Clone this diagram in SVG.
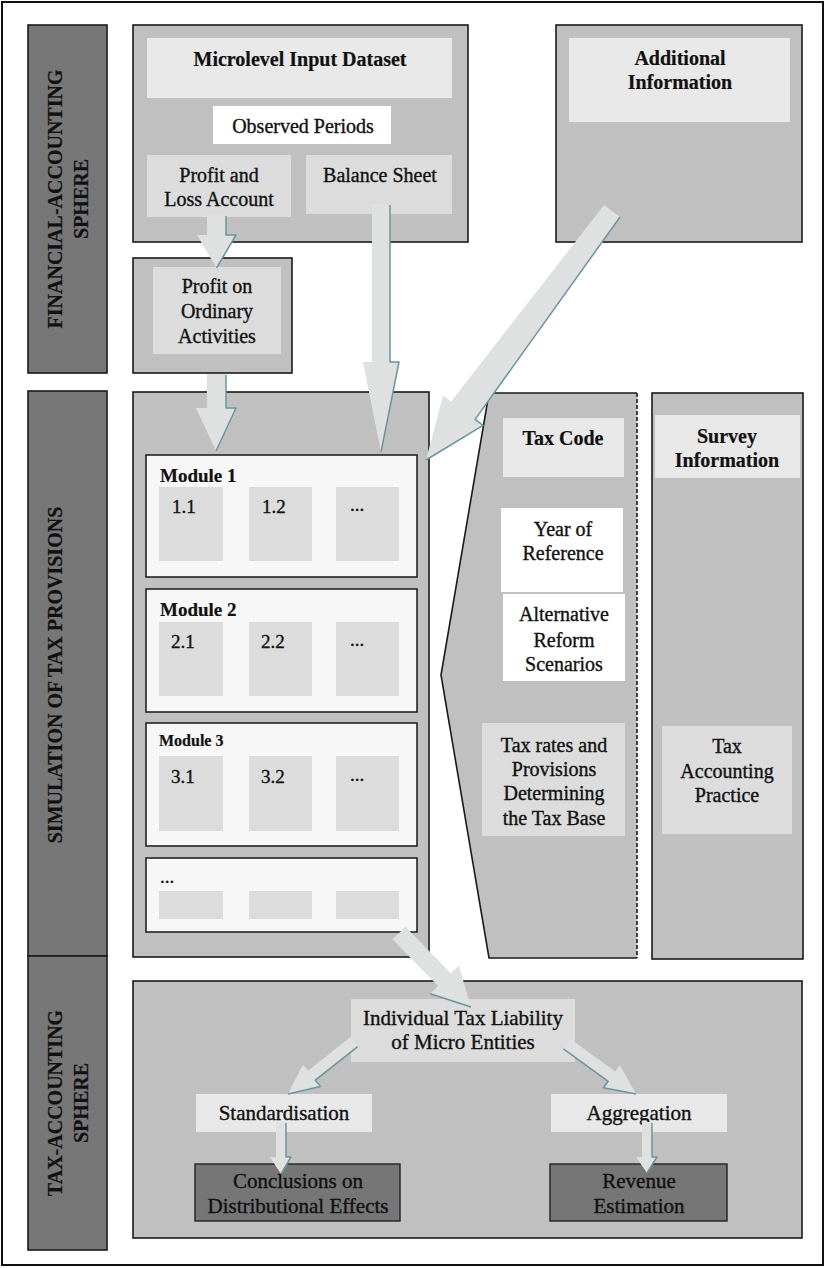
<svg xmlns="http://www.w3.org/2000/svg" width="826" height="1268" viewBox="0 0 826 1268">
<style>
.box{fill:#c0c0c0;stroke:#1a1a1a;stroke-width:1.6}
.side{fill:#777777;stroke:#1a1a1a;stroke-width:1.6}
.hdr{fill:#e8e8e8}
.sub{fill:#dcdcdc}
.wht{fill:#ffffff}
.mod{fill:#f7f7f7;stroke:#222;stroke-width:1.6}
.dark{fill:#767676;stroke:#222;stroke-width:1.4}
text{font-family:"Liberation Serif","Times New Roman",serif;font-size:20px;fill:#111;stroke:#111;stroke-width:0.35;text-anchor:middle}
.b{font-weight:bold;stroke-width:0.2}
.s21{font-size:21px}
.l{text-anchor:start}
.arr{fill:#dfe0e0}
.sh{fill:none;stroke:#6a95a0;stroke-width:1.5;stroke-linejoin:round}
</style>
<rect x="2" y="2" width="821" height="1263" fill="#fff" stroke="#111" stroke-width="2"/>

<g id="side-financial">
<rect class="side" x="28" y="25" width="79" height="348"/>
<text class="b" transform="translate(62,199) rotate(-90)">FINANCIAL-ACCOUNTING</text>
<text class="b" transform="translate(88,199) rotate(-90)">SPHERE</text>
</g>
<g id="side-simulation">
<rect class="side" x="28" y="391" width="79" height="565"/>
<text class="b" transform="translate(62,675) rotate(-90)">SIMULATION OF TAX PROVISIONS</text>
</g>
<g id="side-taxaccounting">
<rect class="side" x="28" y="956" width="79" height="294"/>
<text class="b" transform="translate(62,1103) rotate(-90)">TAX-ACCOUNTING</text>
<text class="b" transform="translate(88,1103) rotate(-90)">SPHERE</text>
</g>

<g id="microlevel">
<rect class="box" x="133" y="25" width="335" height="217"/>
<rect class="hdr" x="147" y="38" width="305" height="60"/>
<text class="b" x="300" y="66">Microlevel Input Dataset</text>
</g>
<g id="observed-periods">
<rect class="wht" x="213" y="106" width="178" height="38"/>
<text x="303" y="133">Observed Periods</text>
</g>
<g id="profit-loss">
<rect class="sub" x="147" y="155" width="144" height="62"/>
<text x="219" y="182">Profit and</text>
<text x="219" y="206">Loss Account</text>
</g>
<g id="balance-sheet">
<rect class="sub" x="306" y="155" width="146" height="59"/>
<text x="380" y="182">Balance Sheet</text>
</g>

<g id="additional-info">
<rect class="box" x="556" y="25" width="246" height="217"/>
<rect class="hdr" x="569" y="38" width="221" height="84"/>
<text class="b" x="680" y="65">Additional</text>
<text class="b" x="680" y="89">Information</text>
</g>

<g id="profit-ordinary">
<rect class="box" x="133" y="258" width="159" height="115"/>
<rect class="sub" x="153" y="267" width="128" height="87"/>
<text x="217" y="293">Profit on</text>
<text x="217" y="318">Ordinary</text>
<text x="217" y="343">Activities</text>
</g>

<g id="simulation">
<rect class="box" x="133" y="392" width="296" height="565"/>
</g>
<g id="module1">
<rect class="mod" x="146" y="455" width="271" height="122"/>
<text class="b l" x="160" y="482" style="font-size:19px">Module 1</text>
<rect class="sub" x="159" y="487" width="64" height="74"/>
<rect class="sub" x="249" y="487" width="63" height="74"/>
<rect class="sub" x="336" y="487" width="63" height="74"/>
<text class="l" x="172" y="513" style="font-size:19px">1.1</text>
<text class="l" x="262" y="513" style="font-size:19px">1.2</text>
<text class="l" x="350" y="511" style="font-size:19px">...</text>
</g>
<g id="module2">
<rect class="mod" x="146" y="589" width="271" height="123"/>
<text class="b l" x="160" y="616" style="font-size:19px">Module 2</text>
<rect class="sub" x="159" y="622" width="64" height="74"/>
<rect class="sub" x="249" y="622" width="63" height="74"/>
<rect class="sub" x="336" y="622" width="63" height="74"/>
<text class="l" x="171" y="648" style="font-size:19px">2.1</text>
<text class="l" x="261" y="648" style="font-size:19px">2.2</text>
<text class="l" x="350" y="646" style="font-size:19px">...</text>
</g>
<g id="module3">
<rect class="mod" x="146" y="723" width="271" height="123"/>
<text class="b l" x="159" y="746" style="font-size:16px">Module 3</text>
<rect class="sub" x="159" y="756" width="64" height="75"/>
<rect class="sub" x="249" y="756" width="63" height="75"/>
<rect class="sub" x="336" y="756" width="63" height="75"/>
<text class="l" x="171" y="783" style="font-size:19px">3.1</text>
<text class="l" x="261" y="783" style="font-size:19px">3.2</text>
<text class="l" x="350" y="781" style="font-size:19px">...</text>
</g>
<g id="module-more">
<rect class="mod" x="146" y="858" width="271" height="74"/>
<text class="l" x="160" y="883" style="font-size:19px">...</text>
<rect class="sub" x="159" y="891" width="64" height="28"/>
<rect class="sub" x="249" y="891" width="63" height="28"/>
<rect class="sub" x="336" y="891" width="63" height="28"/>
</g>

<g id="tax-code">
<polygon points="489,393 637,393 637,958 489,958 441,675" fill="#c0c0c0"/>
<polyline points="637,393 489,393 441,675 489,958 637,958" fill="none" stroke="#1a1a1a" stroke-width="1.6"/>
<line x1="637" y1="393" x2="637" y2="958" stroke="#1a1a1a" stroke-width="1.6" stroke-dasharray="4 2"/>
<rect class="hdr" x="503" y="418" width="121" height="59"/>
<text class="b" x="563" y="445">Tax Code</text>
</g>
<g id="year-of-reference">
<rect class="wht" x="501" y="508" width="122" height="84"/>
<text x="563" y="536">Year of</text>
<text x="563" y="560">Reference</text>
</g>
<g id="alternative-reform">
<rect class="wht" x="503" y="594" width="122" height="87"/>
<text x="564" y="621">Alternative</text>
<text x="564" y="647">Reform</text>
<text x="564" y="671">Scenarios</text>
</g>
<g id="tax-rates">
<rect class="sub" x="482" y="723" width="143" height="113"/>
<text x="554" y="752">Tax rates and</text>
<text x="554" y="776">Provisions</text>
<text x="554" y="800">Determining</text>
<text x="554" y="825">the Tax Base</text>
</g>

<g id="survey">
<rect class="box" x="652" y="393" width="151" height="566"/>
<rect class="hdr" x="655" y="415" width="145" height="63"/>
<text class="b" x="727" y="443">Survey</text>
<text class="b" x="727" y="467">Information</text>
</g>
<g id="tax-accounting-practice">
<rect class="sub" x="662" y="726" width="130" height="108"/>
<text x="727" y="753">Tax</text>
<text x="727" y="778">Accounting</text>
<text x="727" y="802">Practice</text>
</g>

<g id="tax-accounting">
<rect class="box" x="133" y="981" width="669" height="257"/>
</g>
<g id="individual-liability">
<rect class="sub" x="351" y="999" width="224" height="63"/>
<text class="s21" x="463" y="1025">Individual Tax Liability</text>
<text class="s21" x="463" y="1049">of Micro Entities</text>
</g>
<g id="standardisation">
<rect class="hdr" x="196" y="1094" width="176" height="38"/>
<text class="s21" x="284" y="1120">Standardisation</text>
</g>
<g id="aggregation">
<rect class="hdr" x="551" y="1094" width="176" height="38"/>
<text class="s21" x="639" y="1120">Aggregation</text>
</g>
<g id="conclusions">
<rect class="dark" x="195" y="1164" width="205" height="57"/>
<text class="s21" x="298" y="1188">Conclusions on</text>
<text class="s21" x="298" y="1213">Distributional Effects</text>
</g>
<g id="revenue">
<rect class="dark" x="550" y="1164" width="177" height="57"/>
<text class="s21" x="639" y="1188">Revenue</text>
<text class="s21" x="639" y="1213">Estimation</text>
</g>

<g id="connectors">
<polygon class="arr" points="207,215 226,215 226,235 236,235 216.5,268 197,235 207,235"/>
<polyline class="sh" points="226,216 226,235 236,235 216.5,268"/>
<polygon class="arr" points="207,374 226,374 226,408 236,408 216,451 196,408 207,408"/>
<polyline class="sh" points="226,375 226,408 236,408 216,451"/>
<polygon class="arr" points="372,204 390,204 390,362 399,362 381,452 363,362 372,362"/>
<polyline class="sh" points="390,205 390,362 399,362 381,452"/>
<polygon class="arr" points="604,205 451.1,401.4 443.1,395.4 426,460 483.1,425.4 475.1,419.4 620,217"/>
<polyline class="sh" points="620,217 475.1,419.4 483.1,425.4 426,460"/>
<polygon class="arr" points="392.5,939.3 438,986.1 430.2,993.8 471,1007 458.8,965.8 451,973.5 405.5,926.7"/>
<polyline class="sh" points="430.2,993.8 471,1007"/>
<polygon class="arr" points="350.3,1037.3 307.9,1070.7 302.9,1064.4 288,1094 320.3,1086.4 315.3,1080.1 357.7,1046.7"/>
<polyline class="sh" points="357.7,1046.7 315.3,1080.1 320.3,1086.4 288,1094"/>
<polygon class="arr" points="570.5,1039.1 615.2,1071.5 619.9,1065.1 636,1094 603.5,1087.7 608.2,1081.3 563.5,1048.9"/>
<polyline class="sh" points="563.5,1048.9 608.2,1081.3 603.5,1087.7 636,1094"/>
<polygon class="arr" points="276,1122 286,1122 286,1157 291,1157 281,1174 270,1157 276,1157"/>
<polyline class="sh" points="286,1123 286,1157 291,1157 281,1174"/>
<polygon class="arr" points="642,1122 652,1122 652,1157 657,1157 647,1173 636,1157 642,1157"/>
<polyline class="sh" points="652,1123 652,1157 657,1157 647,1173"/>
</g>
</svg>
